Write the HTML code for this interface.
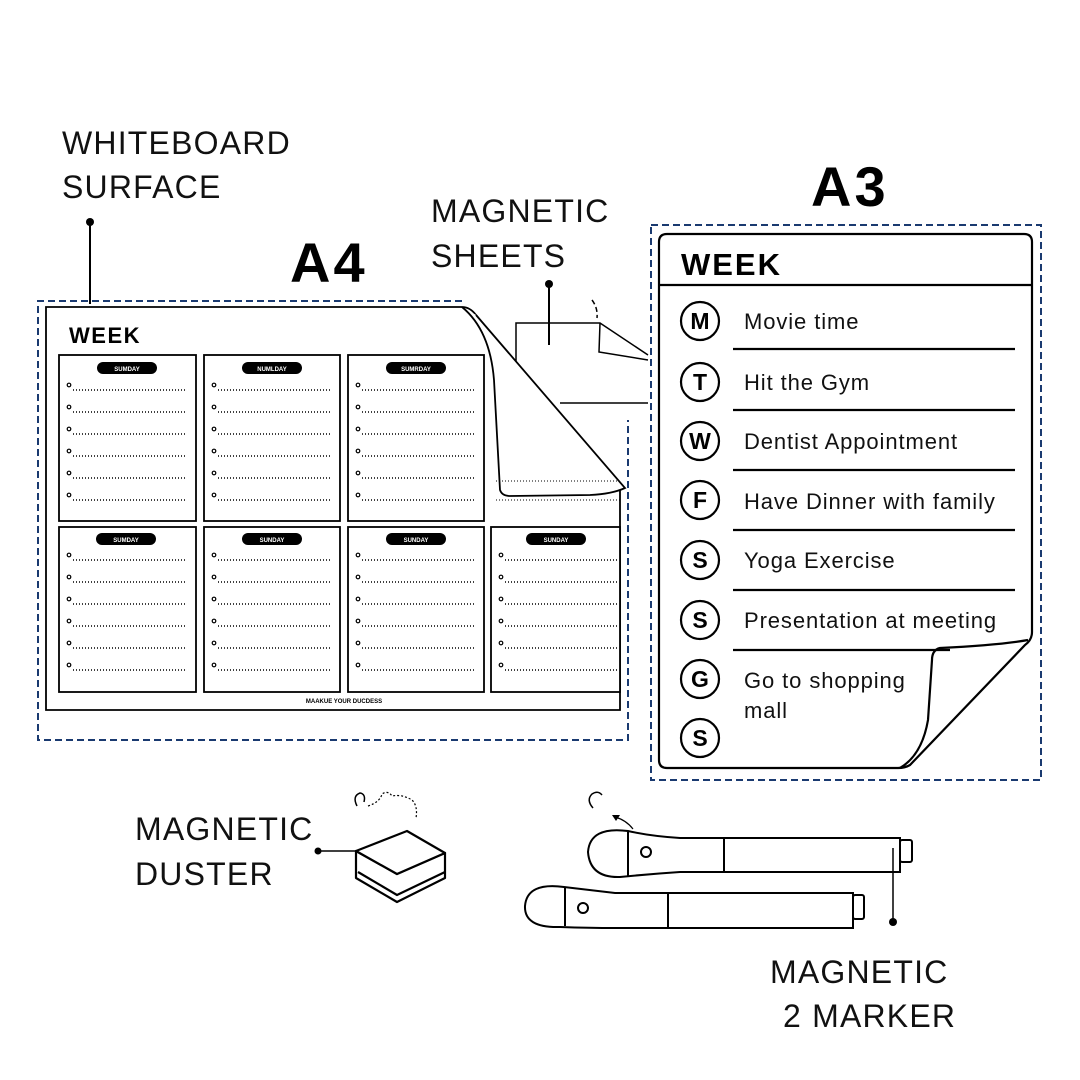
<!DOCTYPE html>
<html><head><meta charset="utf-8"><style>
html,body{margin:0;padding:0;background:#fff;}
svg{display:block;}
text{font-family:"Liberation Sans",sans-serif;}
</style></head><body>
<svg width="1080" height="1080" viewBox="0 0 1080 1080" xmlns="http://www.w3.org/2000/svg">
<defs>
<g id="lines">
  <g fill="none" stroke="#000" stroke-width="1.2">
    <circle cx="10" cy="30" r="1.8"/><circle cx="10" cy="52" r="1.8"/><circle cx="10" cy="74" r="1.8"/>
    <circle cx="10" cy="96" r="1.8"/><circle cx="10" cy="118" r="1.8"/><circle cx="10" cy="140" r="1.8"/>
  </g>
  <g stroke="#000" stroke-width="1.4" stroke-dasharray="1 2">
    <line x1="14" y1="35" x2="128" y2="35"/><line x1="14" y1="57" x2="128" y2="57"/>
    <line x1="14" y1="79" x2="128" y2="79"/><line x1="14" y1="101" x2="128" y2="101"/>
    <line x1="14" y1="123" x2="128" y2="123"/><line x1="14" y1="145" x2="128" y2="145"/>
  </g>
</g>
</defs>

<!-- labels -->
<g font-size="32" fill="#111" letter-spacing="1.2">
<text x="62" y="154">WHITEBOARD</text>
<text x="62" y="198">SURFACE</text>
<text x="431" y="222">MAGNETIC</text>
<text x="431" y="267">SHEETS</text>
<text x="135" y="840">MAGNETIC</text>
<text x="135" y="885">DUSTER</text>
<text x="770" y="983">MAGNETIC</text>
<text x="783" y="1027">2 MARKER</text>
</g>
<circle cx="90" cy="222" r="4" fill="#000"/>
<line x1="90" y1="222" x2="90" y2="304" stroke="#000" stroke-width="2"/>
<text x="290" y="282" font-size="56" font-weight="bold" fill="#000" letter-spacing="3">A4</text>
<text x="811" y="206" font-size="56" font-weight="bold" fill="#000" letter-spacing="3">A3</text>

<!-- A4 dashed box -->
<g fill="none" stroke="#1a3a70" stroke-width="2" stroke-dasharray="7 4">
  <path d="M462 301 H38 V740 H628 V420"/>
</g>

<!-- magnetic sheet sketch behind -->
<g fill="none" stroke="#000" stroke-width="1.5">
  <path d="M516 380 V323 H600 L648 355"/>
  <path d="M600 323 L599 352 L648 360"/>
  <path d="M560 403 H648"/>
  <path d="M592 300 Q598 308 597 318" stroke-dasharray="5 3"/>
</g>
<circle cx="549" cy="284" r="4" fill="#000"/>
<line x1="549" y1="284" x2="549" y2="345" stroke="#000" stroke-width="2"/>

<!-- A4 sheet -->
<path d="M46 307 H462 Q470 307 476 315 L620 488 V710 H46 Z" fill="#fff" stroke="#000" stroke-width="1.8"/>
<path d="M462 307 Q490 330 494 380 L500 490 Q502 496 510 496 L590 495 Q612 494 625 488 L476 315" fill="#fff" stroke="#000" stroke-width="1.8"/>
<line x1="496" y1="481" x2="618" y2="481" stroke="#000" stroke-width="1" stroke-dasharray="1 2"/>
<line x1="496" y1="500" x2="620" y2="500" stroke="#000" stroke-width="1" stroke-dasharray="1 2"/>
<text x="69" y="343" font-size="22" font-weight="bold" fill="#000" letter-spacing="1.5">WEEK</text>

<g fill="#fff" stroke="#000" stroke-width="1.8">
  <rect x="59" y="355" width="137" height="166"/>
  <rect x="204" y="355" width="136" height="166"/>
  <rect x="348" y="355" width="136" height="166"/>
  <rect x="59" y="527" width="137" height="165"/>
  <rect x="204" y="527" width="136" height="165"/>
  <rect x="348" y="527" width="136" height="165"/>
  <rect x="491" y="527" width="129" height="165"/>
</g>
<g fill="#000">
  <rect x="97" y="362" width="60" height="12" rx="6"/>
  <rect x="242" y="362" width="60" height="12" rx="6"/>
  <rect x="386" y="362" width="60" height="12" rx="6"/>
  <rect x="96" y="533" width="60" height="12" rx="6"/>
  <rect x="242" y="533" width="60" height="12" rx="6"/>
  <rect x="386" y="533" width="60" height="12" rx="6"/>
  <rect x="526" y="533" width="60" height="12" rx="6"/>
</g>
<g fill="#fff" font-size="6" font-weight="bold" text-anchor="middle">
  <text x="127" y="371">SUMDAY</text><text x="272" y="371">NUMLDAY</text><text x="416" y="371">SUMRDAY</text>
  <text x="126" y="542">SUMDAY</text><text x="272" y="542">SUNDAY</text><text x="416" y="542">SUNDAY</text><text x="556" y="542">SUNDAY</text>
</g>
<use href="#lines" x="59" y="355"/>
<use href="#lines" x="204" y="355"/>
<use href="#lines" x="348" y="355"/>
<use href="#lines" x="59" y="525"/>
<use href="#lines" x="204" y="525"/>
<use href="#lines" x="348" y="525"/>
<use href="#lines" x="491" y="525"/>
<text x="344" y="703" font-size="6" font-weight="bold" text-anchor="middle" fill="#000">MAAKUE YOUR DUCDESS</text>

<!-- A3 -->
<rect x="651" y="225" width="390" height="555" fill="none" stroke="#1a3a70" stroke-width="2" stroke-dasharray="7 4"/>
<path d="M667 234 H1024 Q1032 234 1032 242 V632 Q1032 640 1025 645 L910 765 Q905 768 898 768 H667 Q659 768 659 760 V242 Q659 234 667 234 Z" fill="#fff" stroke="#000" stroke-width="2.2"/>
<path d="M1028 640 Q1000 645 940 648 Q932 650 932 660 L928 720 Q922 755 900 768" fill="none" stroke="#000" stroke-width="2.2"/>
<line x1="659" y1="285" x2="1032" y2="285" stroke="#000" stroke-width="2.2"/>
<text x="681" y="275" font-size="31" font-weight="bold" fill="#000" letter-spacing="2">WEEK</text>
<g fill="none" stroke="#000" stroke-width="2.2">
  <circle cx="700" cy="321" r="19"/><circle cx="700" cy="382" r="19"/><circle cx="700" cy="441" r="19"/>
  <circle cx="700" cy="500" r="19"/><circle cx="700" cy="560" r="19"/><circle cx="700" cy="620" r="19"/>
  <circle cx="700" cy="679" r="19"/><circle cx="700" cy="738" r="19"/>
  <path d="M733 349 H1015 M733 410 H1015 M733 470 H1015 M733 530 H1015 M733 590 H1015 M733 650 H950"/>
</g>
<g font-size="23" font-weight="bold" text-anchor="middle" fill="#000">
  <text x="700" y="329">M</text><text x="700" y="390">T</text><text x="700" y="449">W</text>
  <text x="700" y="508">F</text><text x="700" y="568">S</text><text x="700" y="628">S</text>
  <text x="700" y="687">G</text><text x="700" y="746">S</text>
</g>
<g font-size="22" fill="#111" letter-spacing="0.9">
  <text x="744" y="329">Movie time</text>
  <text x="744" y="390">Hit the Gym</text>
  <text x="744" y="449">Dentist Appointment</text>
  <text x="744" y="509">Have Dinner with family</text>
  <text x="744" y="568">Yoga Exercise</text>
  <text x="744" y="628">Presentation at meeting</text>
  <text x="744" y="688">Go to shopping</text>
  <text x="744" y="718">mall</text>
</g>

<!-- duster -->
<circle cx="318" cy="851" r="3.5" fill="#000"/>
<line x1="318" y1="851" x2="358" y2="851" stroke="#000" stroke-width="1.5"/>
<g fill="#fff" stroke="#000" stroke-width="2.2" stroke-linejoin="round">
  <path d="M356 851 V878 L397 902 L445 878 V853 L397 874 Z"/>
  <path d="M356 851 L407 831 L445 853 L397 874 Z"/>
  <path d="M358 872 L397 895 L445 872" fill="none"/>
</g>
<path d="M357 806 Q352 796 360 793 Q366 794 364 802" fill="none" stroke="#000" stroke-width="1.5"/>
<path d="M368 806 Q380 802 382 794 Q388 790 392 796 Q402 794 412 800 Q418 806 416 818" fill="none" stroke="#000" stroke-width="1.2" stroke-dasharray="2 2"/>

<!-- markers -->
<g fill="#fff" stroke="#000" stroke-width="2">
  <path d="M628 831 Q650 836 680 838 H900 V872 H680 Q650 874 620 877 Q590 878 588 852 Q590 826 628 831 Z"/>
  <rect x="900" y="840" width="12" height="22" rx="2"/>
  <line x1="628" y1="832" x2="628" y2="876"/>
  <line x1="724" y1="838" x2="724" y2="872"/>
  <circle cx="646" cy="852" r="5"/>
  <path d="M564 887 Q590 890 615 893 H853 V928 H615 Q590 928 560 927 Q524 928 525 906 Q527 882 564 887 Z"/>
  <rect x="853" y="895" width="11" height="24" rx="2"/>
  <line x1="565" y1="888" x2="565" y2="926"/>
  <line x1="668" y1="893" x2="668" y2="928"/>
  <circle cx="583" cy="908" r="5"/>
</g>
<path d="M593 808 Q586 800 592 794 Q598 790 602 795" fill="none" stroke="#000" stroke-width="1.5"/>
<path d="M633 829 Q626 820 615 817" fill="none" stroke="#000" stroke-width="1.2"/>
<path d="M612 815 L620 815 L616 821 Z" fill="#000"/>
<line x1="893" y1="848" x2="893" y2="922" stroke="#000" stroke-width="1.5"/>
<circle cx="893" cy="922" r="4" fill="#000"/>
</svg>
</body></html>
